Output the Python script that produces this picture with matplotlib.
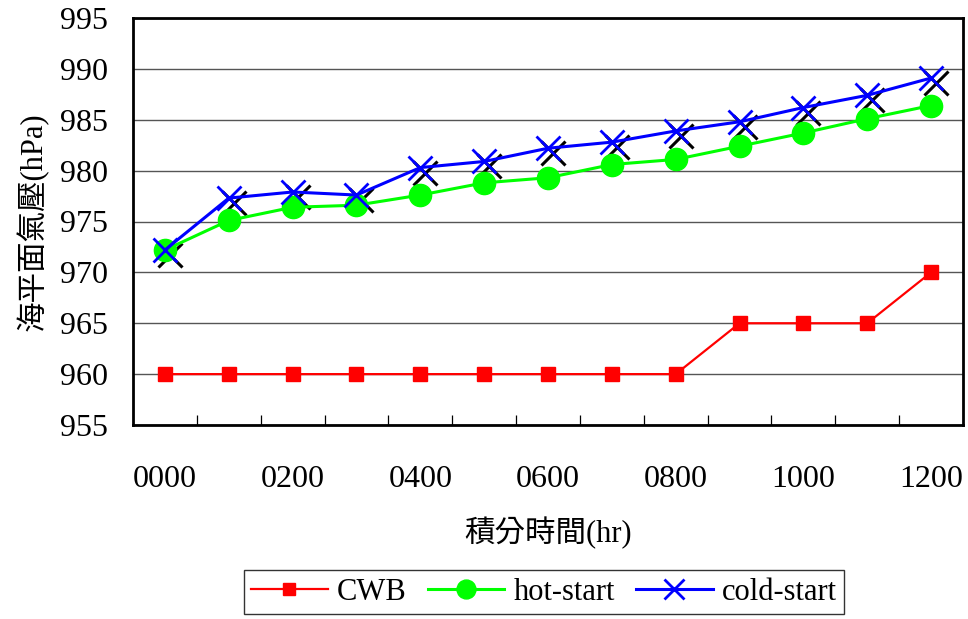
import matplotlib
matplotlib.use("Agg")
import matplotlib.pyplot as plt
import matplotlib.transforms as mtransforms
import numpy as np

plt.rcParams['font.family'] = ['Liberation Serif', 'Noto Sans CJK TC']

times = ['0000', '0100', '0200', '0300', '0400', '0500', '0600',
         '0700', '0800', '0900', '1000', '1100', '1200']
cwb = [960, 960, 960, 960, 960, 960, 960, 960, 960, 965, 965, 965, 970]
hot_start = [972.2, 975.1, 976.4, 976.6, 977.6, 978.8, 979.3,
             980.6, 981.1, 982.4, 983.7, 985.1, 986.4]
cold_start = [972.2, 977.3, 977.9, 977.6, 980.3, 980.9, 982.2,
              982.8, 983.9, 984.8, 986.2, 987.4, 989.1]

fig = plt.figure(figsize=(9.68, 6.19), dpi=100)
ax = fig.add_axes([133/968, 1-425/619, (963-133)/968, (425-18)/619])

x = np.arange(len(times))

# shadow for cold-start markers
shadow = mtransforms.offset_copy(ax.transData, fig=fig, x=5, y=-5, units='dots')
ax.plot(x, cold_start, linestyle='none', marker='x', color='black',
        markersize=17, markeredgewidth=2.2, transform=shadow, zorder=3)

ax.plot(x, cwb, color='#ff0000', lw=1.6, marker='s', markersize=10,
        markerfacecolor='#ff0000', markeredgecolor='#ff0000', label='CWB', zorder=4)
ax.plot(x, hot_start, color='#00ff00', lw=2.2, marker='o', markersize=16,
        markerfacecolor='#00ff00', markeredgecolor='#00ff00', label='hot-start', zorder=4)
ax.plot(x, cold_start, color='#0000ff', lw=2.2, marker='x', markersize=17,
        markeredgewidth=2.0, label='cold-start', zorder=5)

ax.set_xlim(-0.5, len(times) - 0.5)
ax.set_ylim(955, 995)
ax.set_yticks(np.arange(955, 996, 5))
ax.yaxis.grid(True, color='#555555', lw=1.0)
ax.set_axisbelow(True)
ax.tick_params(axis='y', length=0, labelsize=23, pad=18)

ax.set_xticks(x)
ax.set_xticklabels([t if i % 2 == 0 else '' for i, t in enumerate(times)])
ax.tick_params(axis='x', which='major', length=0, labelsize=23, pad=29)
ax.set_xticks(np.arange(0.5, len(times) - 1, 1), minor=True)
ax.tick_params(axis='x', which='minor', direction='in', length=7.5, width=0.9)

for s in ax.spines.values():
    s.set_linewidth(2.0)
    s.set_color('black')

ax.set_ylabel('海平面氣壓(hPa)', fontsize=22, labelpad=8)
ax.set_xlabel('積分時間(hr)', fontsize=22, labelpad=16)

leg = fig.legend(loc='center', bbox_to_anchor=(544/968, 1-592/619), ncol=3,
                 fontsize=22, frameon=True, fancybox=False, edgecolor='black',
                 handlelength=2.5, columnspacing=0.7, handletextpad=0.3,
                 borderpad=0.25, markerscale=0.85)
leg.get_frame().set_linewidth(1.0)

fig.savefig('out.png', dpi=100)
